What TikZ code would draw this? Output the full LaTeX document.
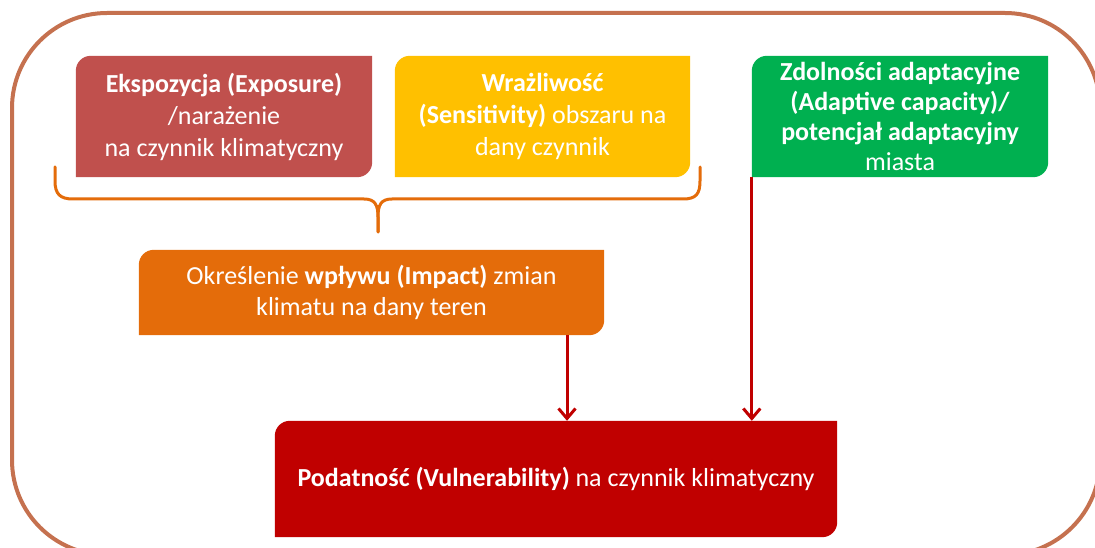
\documentclass[tikz,border=0pt]{standalone}
\usepackage{fontspec}
\setmainfont{Carlito}
\usetikzlibrary{arrows.meta,backgrounds,calc}
\definecolor{expred}{HTML}{C0504D}
\definecolor{sensyel}{HTML}{FFC000}
\definecolor{capgreen}{HTML}{00B050}
\definecolor{impor}{HTML}{E46C0A}
\definecolor{vulred}{HTML}{C00000}
\definecolor{frame}{HTML}{C5714F}
\newcommand\diagfill[2]{\fill[#2] (#1.south west) -- ([yshift=-15pt]#1.north west) arc[start angle=180,end angle=90,radius=15pt] -- (#1.north east) -- ([yshift=15pt]#1.south east) arc[start angle=0,end angle=-90,radius=15pt] -- cycle;}
\tikzset{
  boxtext/.style={inner sep=0pt, draw=none, text=white, align=center,
    font=\fontsize{26}{32}\selectfont},
  flow/.style={draw=vulred, line width=3pt, -{Straight Barb[length=10pt,width=17pt]}},
  bracestyle/.style={draw=impor, line width=3pt, line cap=round},
}
\begin{document}
\begin{tikzpicture}[x=1pt,y=1pt]
\useasboundingbox (0,0) rectangle (1095,547);
\draw[frame, line width=4pt, rounded corners=95pt] (12,534) rectangle (1100,-8);

\node[boxtext, minimum width=296pt, minimum height=121pt] (exp) at (224,430.5)
  {\textbf{Ekspozycja (Exposure)}\\/narażenie\\na czynnik klimatyczny};
\node[boxtext, minimum width=295pt, minimum height=121pt] (sens) at (542.5,430.5)
  {\textbf{Wrażliwość}\\\textbf{(Sensitivity)} obszaru na\\dany czynnik};
\node[boxtext, minimum width=296pt, minimum height=121pt,
  font=\fontsize{26}{30}\selectfont] (cap) at (900,430.5)
  {\textbf{Zdolności adaptacyjne}\\\textbf{(Adaptive capacity)/}\\\textbf{potencjał adaptacyjny}\\miasta};
\node[boxtext, minimum width=465pt, minimum height=85pt,
  font=\fontsize{26}{31}\selectfont] (imp) at (371.5,254.5)
  {Określenie \textbf{wpływu (Impact)} zmian\\klimatu na dany teren};
\node[boxtext, minimum width=562pt, minimum height=116pt] (vul) at (556,68)
  {\textbf{Podatność (Vulnerability)} na czynnik klimatyczny};

\begin{scope}[on background layer]
\diagfill{exp}{expred}
\diagfill{sens}{sensyel}
\diagfill{cap}{capgreen}
\diagfill{imp}{impor}
\diagfill{vul}{vulred}
\end{scope}

% brace under the two top-left boxes
\coordinate (bl) at (55,380);
\coordinate (br) at (700,380);
\coordinate (tip) at (378,315);
\draw[bracestyle] (bl) -- (55,366) .. controls (55,353) and (60,348) .. (73,348)
  -- (364,348) .. controls (375,348) and (378,342) .. (378,330) -- (tip);
\draw[bracestyle] (tip) -- (378,330) .. controls (378,342) and (381,348) .. (392,348)
  -- (683,348) .. controls (696,348) and (700,353) .. (700,366) -- (br);

% arrows
\coordinate (a1) at (567,0);
\draw[flow] (imp.south -| a1) -- (vul.north -| a1);
\draw[flow] (cap.south west) -- (vul.north -| cap.south west);
\end{tikzpicture}
\end{document}
